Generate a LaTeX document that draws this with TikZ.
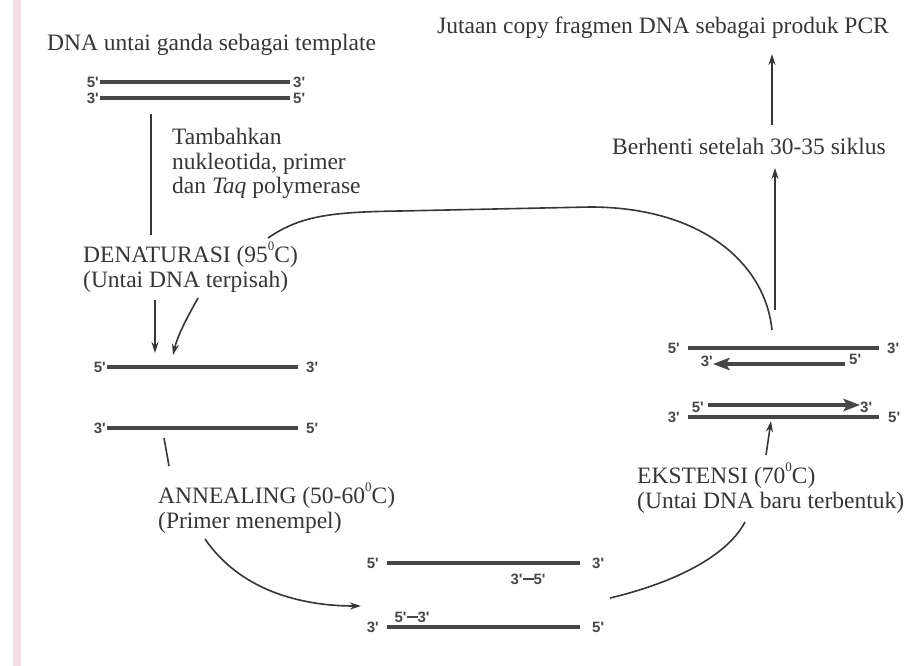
\documentclass[tikz,border=0pt]{standalone}
\usepackage{fontspec}
\setmainfont{Liberation Serif}
\newfontfamily\labfont{Liberation Sans}
\usetikzlibrary{arrows.meta}
\definecolor{ink}{HTML}{363636}
\definecolor{strandc}{HTML}{474747}
\definecolor{pinkstrip}{RGB}{242,222,227}
\newcommand\primerbar{\raisebox{0.27em}{\rule{11pt}{2.6pt}}}
\newcommand\degzero{\raisebox{0.5em}{\fontsize{13}{13}\selectfont 0}}
\begin{document}
\begin{tikzpicture}[x=1pt,y=-1pt,
  txt/.style={inner sep=0pt, anchor=base west, text=ink, font=\fontsize{23.5}{25}\selectfont},
  lab/.style={inner sep=0pt, text=strandc, font=\labfont\bfseries\fontsize{15}{15}\selectfont},
  strandln/.style={draw=strandc, line width=4pt},
  conn/.style={draw=ink, line width=1.6pt},
  arr/.style={conn, -{Stealth[length=11pt,width=7pt]}},
  tipfill/.style={fill=strandc},
]
\useasboundingbox (0,0) rectangle (910,666);
\fill[white] (0,0) rectangle (910,666);
\fill[pinkstrip] (13,0) rectangle (21,666);

% ---------- texts ----------
\node[txt] (title1) at (47,51) {DNA untai ganda sebagai template};
\node[txt] (title2) at (437,34) {Jutaan copy fragmen DNA sebagai produk PCR};
\node[txt] (tam1) at (172,145) {Tambahkan};
\node[txt] (tam2) at (172,169) {nukleotida, primer};
\node[txt] (tam3) at (172,193) {dan \textit{Taq} polymerase};
\node[txt] (den1) at (83,262) {DENATURASI (95\degzero C)};
\node[txt] (den2) at (83,287) {(Untai DNA terpisah)};
\node[txt] (ann1) at (158,503) {ANNEALING (50-60\degzero C)};
\node[txt] (ann2) at (158,528) {(Primer menempel)};
\node[txt] (eks1) at (637,483) {EKSTENSI (70\degzero C)};
\node[txt] (eks2) at (637,508) {(Untai DNA baru terbentuk)};
\node[txt] (stop) at (612,154) {Berhenti setelah 30-35 siklus};

% ---------- top DNA ----------
\coordinate (t1a) at (100,82); \coordinate (t1b) at (290,82);
\coordinate (t2a) at (100,98); \coordinate (t2b) at (290,98);
\draw[strandln] (t1a) -- (t1b);
\draw[strandln] (t2a) -- (t2b);
\node[lab,left=1pt] at (t1a) {5'};
\node[lab,right=3pt] at (t1b) {3'};
\node[lab,left=1pt] at (t2a) {3'};
\node[lab,right=3pt] at (t2b) {5'};

% ---------- separated strands ----------
\coordinate (l1a) at (107,367); \coordinate (l1b) at (298,367);
\coordinate (l2a) at (107,428); \coordinate (l2b) at (298,428);
\draw[strandln] (l1a) -- (l1b);
\draw[strandln] (l2a) -- (l2b);
\node[lab,left=1pt] at (l1a) {5'};
\node[lab,right=8pt] at (l1b) {3'};
\node[lab,left=1pt] at (l2a) {3'};
\node[lab,right=8pt] at (l2b) {5'};

% ---------- annealed (bottom) ----------
\coordinate (b1a) at (387,563); \coordinate (b1b) at (580,563);
\coordinate (b2a) at (387,627); \coordinate (b2b) at (580,627);
\draw[strandln] (b1a) -- (b1b);
\draw[strandln] (b2a) -- (b2b);
\node[lab,left=8pt] at (b1a) {5'};
\node[lab,right=12pt] at (b1b) {3'};
\node[lab,left=8pt] at (b2a) {3'};
\node[lab,right=12pt] at (b2b) {5'};
\node[lab] (prA) at (528,579) {3'\primerbar5'};
\node[lab] (prB) at (412,617) {5'\primerbar3'};

% ---------- extension (right) ----------
\coordinate (r1a) at (688,348); \coordinate (r1b) at (879,348);
\coordinate (r4a) at (688,417); \coordinate (r4b) at (879,417);
\draw[strandln] (r1a) -- (r1b);
\draw[strandln] (r4a) -- (r4b);
\node[lab,left=8pt] at (r1a) {5'};
\node[lab,right=8pt] at (r1b) {3'};
\node[lab,left=8pt] at (r4a) {3'};
\node[lab,right=9pt] at (r4b) {5'};
% new strand 2 (leftward)
\coordinate (r2s) at (845,364); \coordinate (r2e) at (713,364);
\draw[strandln] (r2s) -- ([xshift=12pt]r2e);
\fill[tipfill] (r2e) -- ++(17,-6.5) -- ++(-4,6.5) -- ++(4,6.5) -- cycle;
% new strand 3 (rightward)
\coordinate (r3s) at (708,405); \coordinate (r3e) at (860,405);
\draw[strandln] (r3s) -- ([xshift=-12pt]r3e);
\fill[tipfill] (r3e) -- ++(-17,-6.5) -- ++(4,6.5) -- ++(-4,6.5) -- cycle;
\node[lab,left=0pt] at ([yshift=3pt]r2e) {3'};
\node[lab,right=4pt] at ([yshift=5pt]r2s) {5'};
\node[lab,left=4pt] at ([yshift=-2pt]r3s) {5'};
\node[lab,right=0pt] at ([yshift=-2pt]r3e) {3'};

% ---------- connectors ----------
\coordinate (v1) at (151,114);
\draw[conn] (v1) -- ([yshift=6pt]v1 |- den1.north);
\coordinate (da) at (155,300); \coordinate (db) at (155,353);
\draw[arr] (da) -- (db);
\coordinate (dc) at (198,298); \coordinate (dd) at (173,355);
\draw[arr] (dc) .. controls (188,316) and (178,334) .. (dd);
\coordinate (aa) at (164,438); \coordinate (ab) at (169,466);
\draw[conn] (aa) -- (ab);
\coordinate (ac) at (205,539); \coordinate (ad) at (361,606);
\draw[arr] (ac) .. controls (240,590) and (300,606) .. (ad);
\coordinate (ea) at (610,598); \coordinate (eb) at (745,522);
\draw[conn] (ea) .. controls (665,585) and (725,560) .. (eb);
\coordinate (ec) at (766,455); \coordinate (ed) at (771,421);
\draw[arr] (ec) -- (ed);
\coordinate (ca) at (772,330); \coordinate (cb) at (268,238);
\draw[conn] (ca) .. controls (765,262) and (700,207) .. (590,207)
  -- (400,211) .. controls (330,212) and (300,216) .. (cb);
\coordinate (sa) at (775,310); \coordinate (sb) at (775,168);
\draw[arr] (sa) -- (sb);
\coordinate (pa) at (772,125); \coordinate (pb) at (772,54);
\draw[arr] (pa) -- (pb);
\end{tikzpicture}
\end{document}
